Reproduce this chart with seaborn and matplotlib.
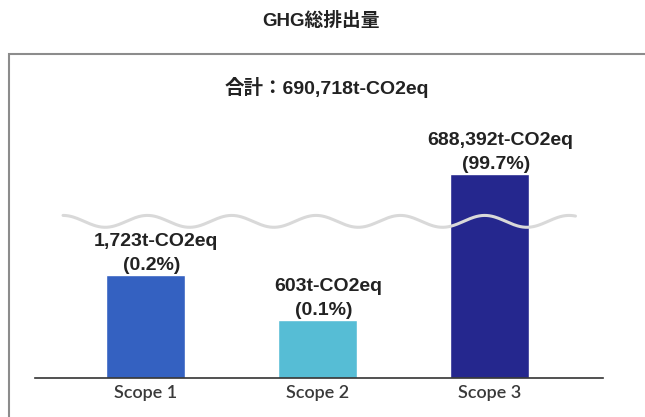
#GHG total emissions by scope
#broken-axis bar chart
import numpy as np
import pandas as pd
import seaborn as sns
import matplotlib.pyplot as plt
from matplotlib.patches import Rectangle

scopes = ["Scope 1", "Scope 2", "Scope 3"]
emissions = [1723, 603, 688392]
shares = ["0.2%", "0.1%", "99.7%"]
total = 690718
colors = ["#3461c1", "#56bdd5", "#25278e"]

# broken axis: power scale below the break, log-compressed above it
POW = 0.55
BREAK = 3700
K = 5.3
FB = BREAK ** POW


def fwd(v):
    v = np.maximum(np.asarray(v, dtype=float), 1e-12)
    with np.errstate(all="ignore"):
        return np.where(v <= BREAK, v ** POW, FB + K * np.log(v / BREAK))


def inv(u):
    u = np.clip(np.asarray(u, dtype=float), 0, 400)
    with np.errstate(all="ignore"):
        return np.where(u <= FB, u ** (1 / POW), BREAK * np.exp((u - FB) / K))


sns.set_style("white")
plt.rcParams["font.family"] = ["Liberation Sans", "Noto Sans CJK JP"]

df = pd.DataFrame({"scope": scopes, "value": emissions})

fig = plt.figure(figsize=(6.45, 4.17), dpi=100)
ax = fig.add_axes([35 / 645, 39 / 417, 568 / 645, 258 / 417])

sns.barplot(data=df, x="scope", y="value", hue="scope", palette=colors,
            width=0.46, legend=False, saturation=1, ax=ax)
ax.set_yscale("function", functions=(fwd, inv))
ax.set_ylim(0, 2.7e8)
ax.set_xlim(-0.64, 2.66)

# labels above the bars
for i, (v, s) in enumerate(zip(emissions, shares)):
    ax.annotate(f"{v:,}t-CO2eq", (i, v), xytext=(8, 24), textcoords="offset points",
                ha="center", va="center", fontsize=14, fontweight="bold", color="#222222")
    ax.annotate(f"({s})", (i, v), xytext=(5, 7), textcoords="offset points",
                ha="center", va="center", fontsize=14, fontweight="bold", color="#222222")

# wavy break line
frac = fwd(BREAK) / fwd(2.7e8)
wx = np.linspace(-0.477, 2.5, 400)
wy = frac + 0.023 * np.cos(2 * np.pi * (wx + 0.477) / 0.49)
ax.plot(wx, wy, transform=ax.get_xaxis_transform(), color="#d9d9d9", lw=2.2, zorder=5)

sns.despine(ax=ax, left=True)
ax.spines["bottom"].set_color("#333333")
ax.spines["bottom"].set_linewidth(1.2)
ax.set_yticks([])
ax.set_xlabel("")
ax.set_ylabel("")
ax.tick_params(axis="x", length=0, pad=5, labelsize=13, labelcolor="#3a3a3a")
for t in ax.get_xticklabels():
    t.set_family(["Lato", "DejaVu Sans"])
    t.set_fontweight("semibold")

fig.add_artist(Rectangle((9 / 645, -0.2), 1.2, 1.2 - 54 / 417, transform=fig.transFigure,
                         fill=False, edgecolor="#8c8c8c", linewidth=1.5))
fig.text(321 / 645, 1 - 21 / 417, "GHG総排出量", ha="center", va="center",
         fontsize=13.5, fontweight="bold", color="#222222")
fig.text(327 / 645, 1 - 87 / 417, f"合計：{total:,}t-CO2eq", ha="center", va="center",
         fontsize=14, fontweight="bold", color="#222222")

fig.savefig("out.png", dpi=100)
